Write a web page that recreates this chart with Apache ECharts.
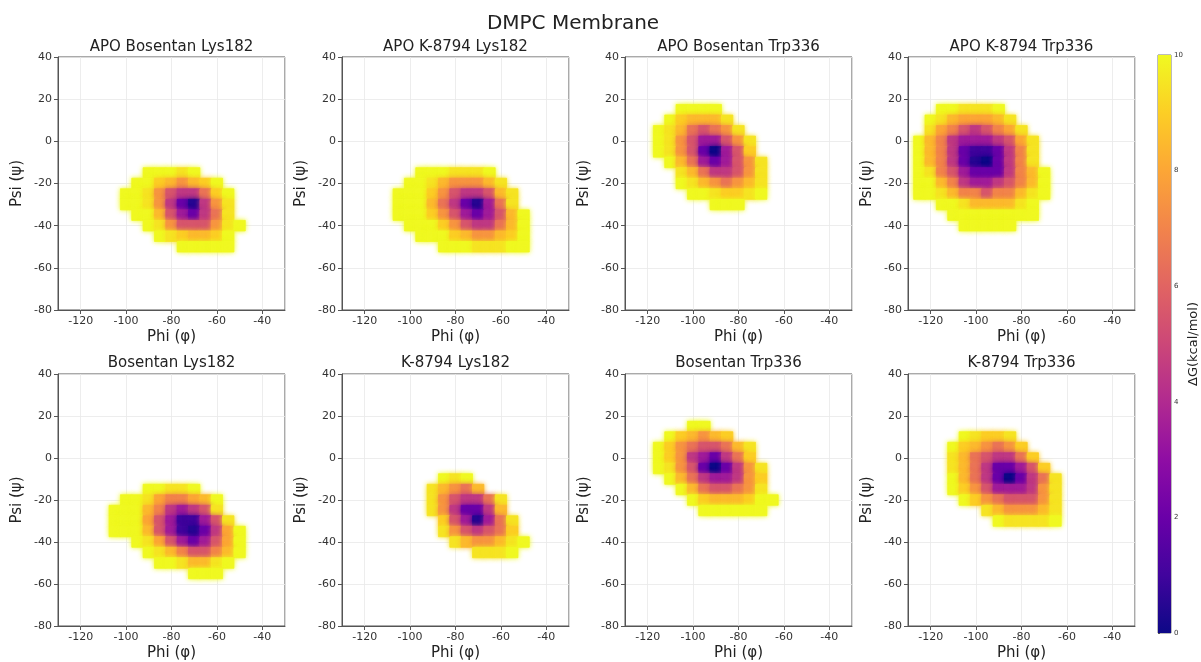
<!DOCTYPE html>
<html>
<head>
<meta charset="UTF-8">
<title>DMPC Membrane</title>
<style>
  html, body { margin: 0; padding: 0; background: #fff; }
  #main { width: 1201px; height: 662px; }
</style>
</head>
<body>
<div id="main"></div>
<script src="https://cdn.jsdelivr.net/npm/echarts@6/dist/echarts.min.js"></script>
<script>
// dG (kcal/mol) on a 5 deg grid
// each row: [psi, phi of first cell, [dG of cells going right]]
var apoBosentanLys182 = [
  [-15, -90, [10, 10, 10, 9.5, 10]],
  [-20, -95, [10, 10, 9, 8.5, 7.5, 8.5, 9, 10]],
  [-25, -100, [10, 10, 9.5, 7.5, 5.5, 4.5, 4.5, 6.5, 9, 10]],
  [-30, -100, [10, 10, 9.5, 7.5, 4.5, 2, 0.5, 4.5, 7.5, 9.5]],
  [-35, -95, [10, 10, 8.5, 5.5, 3.5, 2, 4.5, 6.5, 9.5]],
  [-40, -90, [10, 9.5, 7.5, 5.5, 5.5, 5.5, 7.5, 9.5, 10]],
  [-45, -85, [10, 9.5, 9, 8.5, 8.5, 9, 10]],
  [-50, -75, [10, 10, 10, 10, 10]]
];
var apoK8794Lys182 = [
  [-15, -95, [10, 10, 10, 9.5, 9.5, 9.5, 10]],
  [-20, -100, [10, 10, 9.5, 8.5, 7.5, 7.5, 7.5, 8.5, 9.5]],
  [-25, -105, [10, 10, 10, 9, 7.5, 5.5, 4.5, 4.5, 5.5, 8.5, 9.5]],
  [-30, -105, [10, 10, 10, 8.5, 6.5, 4.5, 2, 0.5, 3.5, 6.5, 9.5]],
  [-35, -105, [10, 10, 10, 9, 7.5, 5.5, 3.5, 2, 3.5, 5.5, 8.5, 10]],
  [-40, -100, [10, 10, 10, 9, 7.5, 5.5, 4.5, 4.5, 6.5, 8.5, 10]],
  [-45, -95, [10, 10, 10, 9, 8.5, 7.5, 7.5, 8.5, 9, 10]],
  [-50, -85, [10, 10, 10, 9.5, 9.5, 9.5, 10, 10]]
];
var apoBosentanTrp336 = [
  [15, -105, [10, 10, 10, 10]],
  [10, -110, [10, 9, 8.5, 8.5, 8.5, 9.5]],
  [5, -115, [10, 9.5, 8.5, 6.5, 5.5, 6.5, 7.5, 9.5]],
  [0, -115, [10, 9.5, 7.5, 5.5, 3.5, 3.5, 5.5, 7.5, 9.5]],
  [-5, -115, [10, 9.5, 7.5, 5.5, 2, 0, 3.5, 5.5, 9]],
  [-10, -110, [10, 8.5, 6.5, 3.5, 2, 3.5, 5.5, 7.5, 9.5]],
  [-15, -105, [9.5, 8.5, 6.5, 4.5, 4.5, 5.5, 7.5, 9.5]],
  [-20, -105, [10, 9.5, 8.5, 7.5, 6.5, 7.5, 8.5, 9.5]],
  [-25, -100, [10, 10, 9.5, 9, 9, 9.5, 10]],
  [-30, -90, [10, 10, 10]]
];
var apoK8794Trp336 = [
  [15, -115, [10, 10, 9.5, 9.5, 9.5, 10]],
  [10, -120, [10, 9.5, 8.5, 8, 8, 8, 8.5, 9.5]],
  [5, -120, [9.5, 8, 7, 5.5, 4.5, 5.5, 7, 8, 9.5]],
  [0, -125, [10, 8.5, 7, 4.5, 3.5, 3.5, 3.5, 4.5, 5.5, 8, 9.5]],
  [-5, -125, [10, 8.5, 7, 4.5, 2, 1, 1, 2, 4.5, 7, 9.5]],
  [-10, -125, [10, 8.5, 7, 4.5, 2, 0.5, 0, 2, 4.5, 7, 9.5]],
  [-15, -125, [10, 9.5, 7, 5.5, 3.5, 2, 2, 2, 4.5, 7, 8.5, 10]],
  [-20, -125, [10, 10, 8.5, 7, 4.5, 3.5, 3.5, 4.5, 5.5, 7, 8.5, 10]],
  [-25, -125, [10, 10, 9.5, 8.5, 7, 7, 5.5, 7, 7, 8.5, 9.5, 10]],
  [-30, -115, [10, 10, 9.5, 8.5, 8.5, 8.5, 8.5, 9.5, 10]],
  [-35, -110, [10, 10, 10, 10, 10, 10, 10, 10]],
  [-40, -105, [10, 10, 10, 10, 10]]
];
var bosentanLys182 = [
  [-15, -90, [10, 10, 9.5, 9.5, 10]],
  [-20, -100, [10, 10, 9.5, 8, 7, 7, 8, 8.5, 10]],
  [-25, -105, [10, 10, 10, 8.5, 7, 4.5, 3.5, 4.5, 5.5, 9.5]],
  [-30, -105, [10, 10, 10, 8, 5.5, 3.5, 1, 1, 3.5, 5.5, 9.5]],
  [-35, -105, [10, 10, 10, 8.5, 5.5, 3.5, 1, 0.5, 2, 4.5, 8, 10]],
  [-40, -95, [10, 9.5, 8, 5.5, 3.5, 2, 3.5, 5.5, 8, 10]],
  [-45, -90, [10, 9.5, 8.5, 7, 5.5, 5.5, 7, 8.5, 10]],
  [-50, -85, [10, 10, 9.5, 8.5, 8.5, 9.5, 10]],
  [-55, -70, [10, 10, 10]]
];
var k8794Lys182 = [
  [-10, -85, [10, 9.5, 10]],
  [-15, -90, [9.5, 8.5, 7.5, 6.5, 8.5]],
  [-20, -90, [9.5, 7.5, 5.5, 4.5, 4.5, 6.5, 9.5]],
  [-25, -90, [9.5, 7.5, 4.5, 2, 2, 4.5, 8.5]],
  [-30, -85, [9, 5.5, 3.5, 0.5, 3.5, 6.5, 9.5]],
  [-35, -85, [9.5, 7.5, 5.5, 4.5, 5.5, 6.5, 9]],
  [-40, -80, [9.5, 8.5, 7.5, 7.5, 8.5, 9.5, 10]],
  [-45, -70, [9.5, 9.5, 9.5, 10]]
];
var bosentanTrp336 = [
  [15, -100, [10, 10]],
  [10, -110, [10, 9, 8.5, 7.5, 8.5, 9]],
  [5, -115, [10, 9, 7.5, 6.5, 5.5, 5.5, 6.5, 8.5, 9.5]],
  [0, -115, [10, 9, 7.5, 4.5, 3.5, 2, 4.5, 6.5, 9]],
  [-5, -115, [10, 9.5, 7.5, 5.5, 2, 0, 2, 4.5, 7.5, 9.5]],
  [-10, -110, [10, 8.5, 6.5, 4.5, 3.5, 3.5, 4.5, 7.5, 9]],
  [-15, -105, [10, 8.5, 6.5, 5.5, 5.5, 6.5, 7.5, 9.5]],
  [-20, -100, [10, 9, 8.5, 8.5, 8.5, 9, 10, 10]],
  [-25, -95, [10, 10, 10, 10, 10, 10]]
];
var k8794Trp336 = [
  [10, -105, [10, 9.5, 9, 9, 9.5]],
  [5, -110, [10, 9, 8.5, 7.5, 6.5, 7.5, 9]],
  [0, -110, [9.5, 8.5, 6.5, 5.5, 4.5, 4.5, 6.5, 9]],
  [-5, -110, [9.5, 8.5, 6.5, 4.5, 2, 2, 3.5, 5.5, 9]],
  [-10, -110, [10, 8.5, 6.5, 4.5, 2, 0, 2, 4.5, 6.5, 9.5]],
  [-15, -110, [10, 9, 7.5, 5.5, 3.5, 3.5, 3.5, 4.5, 7.5, 9.5]],
  [-20, -105, [10, 9, 7.5, 6.5, 5.5, 5.5, 5.5, 7.5, 9.5]],
  [-25, -95, [9.5, 8.5, 7.5, 7.5, 7.5, 8.5, 9.5]],
  [-30, -90, [10, 9.5, 9.5, 9.5, 9.5, 10]]
];

var panelTitles = ['APO Bosentan Lys182', 'APO K-8794 Lys182', 'APO Bosentan Trp336', 'APO K-8794 Trp336',
                   'Bosentan Lys182', 'K-8794 Lys182', 'Bosentan Trp336', 'K-8794 Trp336'];
var panelData = [apoBosentanLys182, apoK8794Lys182, apoBosentanTrp336, apoK8794Trp336,
                 bosentanLys182, k8794Lys182, bosentanTrp336, k8794Trp336];
var phiRange = [-130, -30];
var psiRange = [-80, 40];
var psiStep = 20;
var cbTicks = [0, 10, 2];   // colorbar min, max, step
var cell = 5;

// matplotlib plasma
var plasma = ['#0d0887', '#41049d', '#6a00a8', '#8f0da4', '#b12a90', '#cc4778',
              '#e16462', '#f2844b', '#fca636', '#fcce25', '#f0f921'];

function toCells(rows) {
  var out = [];
  rows.forEach(function (r) {
    r[2].forEach(function (g, i) {
      out.push([r[1] + i * cell, r[0], g]);
    });
  });
  return out;
}

function renderCell(params, api) {
  var phi = api.value(0), psi = api.value(1);
  var a = api.coord([phi - cell / 2, psi + cell / 2]);
  var b = api.coord([phi + cell / 2, psi - cell / 2]);
  var c = api.visual('color');
  return {
    type: 'rect',
    shape: { x: a[0], y: a[1], width: b[0] - a[0], height: b[1] - a[1] },
    style: { fill: c, stroke: c, lineWidth: 0.8, shadowBlur: 5, shadowColor: c }
  };
}

var font = 'DejaVu Sans';
var lefts = [58, 342, 625, 908];
var tops = [57, 374];
var W = 227, H = 253;

var grids = [], xAxes = [], yAxes = [], series = [], texts = [];

panelData.forEach(function (rows, k) {
  var col = k % 4, row = Math.floor(k / 4);
  grids.push({ left: lefts[col], top: tops[row], width: W, height: H,
               show: true, borderColor: '#555', borderWidth: 1 });
  xAxes.push({
    gridIndex: k, type: 'value', min: phiRange[0], max: phiRange[1], splitNumber: 5,
    name: 'Phi (φ)', nameLocation: 'middle', nameGap: 20,
    nameTextStyle: { fontFamily: font, fontSize: 15, color: '#222' },
    axisLine: { show: true, onZero: false, lineStyle: { color: '#555' } },
    axisTick: { show: true, length: 4, lineStyle: { color: '#555' } },
    axisLabel: { fontFamily: font, fontSize: 11, color: '#333', margin: 6,
                 showMinLabel: false, showMaxLabel: false },
    splitLine: { show: true, lineStyle: { color: '#e8e8e8', width: 0.8 } }
  });
  yAxes.push({
    gridIndex: k, type: 'value', min: psiRange[0], max: psiRange[1], interval: psiStep,
    name: 'Psi (ψ)', nameLocation: 'middle', nameGap: 33,
    nameTextStyle: { fontFamily: font, fontSize: 15, color: '#222' },
    axisLine: { show: true, onZero: false, lineStyle: { color: '#555' } },
    axisTick: { show: true, length: 4, lineStyle: { color: '#555' } },
    axisLabel: { fontFamily: font, fontSize: 11, color: '#333', margin: 6 },
    splitLine: { show: true, lineStyle: { color: '#e8e8e8', width: 0.8 } }
  });
  series.push({
    type: 'custom', xAxisIndex: k, yAxisIndex: k,
    renderItem: renderCell, clip: true,
    encode: { x: 0, y: 1 },
    data: toCells(rows)
  });
  texts.push({
    type: 'text', x: lefts[col] + W / 2, y: row === 0 ? 47 : 363,
    style: { text: panelTitles[k], font: '15px "' + font + '"', fill: '#222',
             align: 'center', verticalAlign: 'middle' }
  });
});

// colorbar
grids.push({ left: 1158, top: 55, width: 19, height: 578, show: true, borderColor: '#555', borderWidth: 0.8 });
xAxes.push({ gridIndex: 8, type: 'value', min: 0, max: 1, show: false });
yAxes.push({
  gridIndex: 8, type: 'value', position: 'right', min: cbTicks[0], max: cbTicks[1], interval: cbTicks[2],
  name: 'ΔG(kcal/mol)', nameLocation: 'middle', nameGap: 16, nameRotate: 90,
  nameTextStyle: { fontFamily: font, fontSize: 13, color: '#222' },
  axisLine: { show: false },
  axisTick: { show: true, length: 2, lineStyle: { color: '#555' } },
  axisLabel: { fontFamily: font, fontSize: 7, color: '#333', margin: 3 },
  splitLine: { show: false }
});
series.push({
  type: 'custom', xAxisIndex: 8, yAxisIndex: 8,
  data: [[0, cbTicks[0], 1, cbTicks[1]]],
  renderItem: function (params, api) {
    var a = api.coord([api.value(0), api.value(3)]);
    var b = api.coord([api.value(2), api.value(1)]);
    var stops = plasma.map(function (c, i) { return { offset: i / (plasma.length - 1), color: c }; });
    return {
      type: 'rect',
      shape: { x: a[0], y: a[1], width: b[0] - a[0], height: b[1] - a[1] },
      style: { fill: new echarts.graphic.LinearGradient(0, 1, 0, 0, stops) }
    };
  }
});

texts.push({
  type: 'text', x: 573, y: 24,
  style: { text: 'DMPC Membrane', font: '20px "' + font + '"', fill: '#222',
           align: 'center', verticalAlign: 'middle' }
});

var chart = echarts.init(document.getElementById('main'));
chart.setOption({
  backgroundColor: '#fff',
  animation: false,
  visualMap: {
    type: 'continuous', show: false, min: 0, max: 10, dimension: 2,
    seriesIndex: [0, 1, 2, 3, 4, 5, 6, 7],
    inRange: { color: plasma }
  },
  grid: grids,
  xAxis: xAxes,
  yAxis: yAxes,
  series: series,
  graphic: texts
});
</script>
</body>
</html>
